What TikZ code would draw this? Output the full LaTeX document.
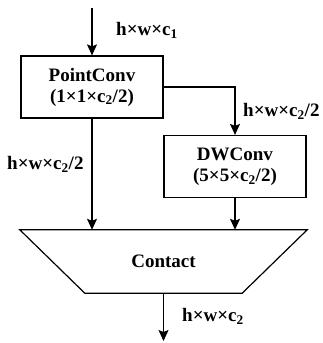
\documentclass[tikz,border=0pt]{standalone}
\usepackage{fontspec}
\setmainfont{Liberation Serif}
\usetikzlibrary{arrows.meta}

\tikzset{
  convbox/.style={draw, line width=1.2pt, minimum width=142pt, minimum height=62pt,
    align=center, font=\fontsize{19}{21}\selectfont\bfseries, inner sep=0pt},
  dimlabel/.style={font=\fontsize{19}{21}\selectfont\bfseries, inner sep=0pt},
  flow/.style={line width=1.2pt, -{Stealth[length=11pt, width=10pt, inset=2pt]}}
}

\begin{document}
\begin{tikzpicture}[x=1pt,y=-1pt]
\useasboundingbox (0,0) rectangle (323,343);
\node[convbox] (pconv) at (92,87) {PointConv\\(1×1×c\textsubscript{2}/2)};
\node[convbox] (dwconv) at (235,166.5) {DWConv\\(5×5×c\textsubscript{2}/2)};
\node[minimum width=287pt, minimum height=63pt, inner sep=0pt,
  font=\fontsize{19}{21}\selectfont\bfseries] (merge) at (163.5,261.5) {Contact};
% concat block: wide on top, narrow below
\draw[line width=1.2pt] (merge.north west) -- (merge.north east)
  -- ([xshift=-65pt]merge.south east) -- ([xshift=65pt]merge.south west) -- cycle;
\coordinate (in) at (92,8);
\coordinate (out) at (163.5,341);
% input and output
\draw[flow] (in) -- (pconv.north);
\draw[flow] (merge.south) -- (out);
% two branches into the concat
\draw[flow] (pconv.east) -| (dwconv.north);
\draw[flow] (pconv.south) -- (pconv.south |- merge.north);
\draw[flow] (dwconv.south) -- (dwconv.south |- merge.north);
\node[dimlabel, anchor=west] (lin) at (116,30) {h×w×c\textsubscript{1}};
\node[dimlabel, anchor=west] (lright) at (243,111) {h×w×c\textsubscript{2}/2};
\node[dimlabel, anchor=west] (lleft) at (7,164) {h×w×c\textsubscript{2}/2};
\node[dimlabel, anchor=west] (lout) at (182,316) {h×w×c\textsubscript{2}};
\end{tikzpicture}
\end{document}
